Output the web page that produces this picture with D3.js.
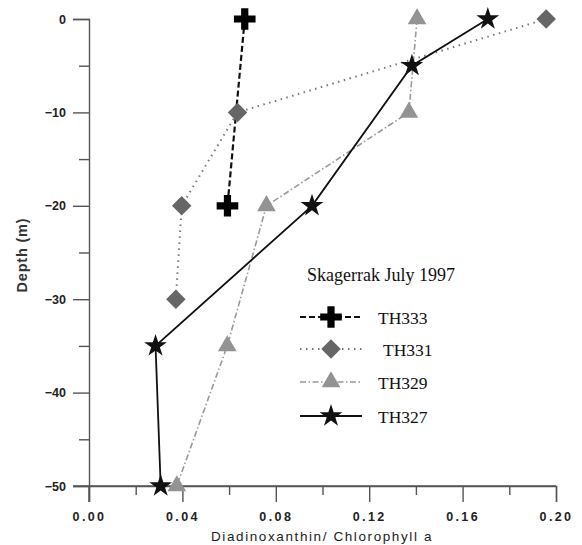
<!DOCTYPE html>
<html>
<head>
<meta charset="utf-8">
<script src="https://cdn.jsdelivr.net/npm/d3@7"></script>
<style>
  html, body { margin: 0; padding: 0; background: #fff; }
  svg { display: block; }
</style>
</head>
<body>
<svg id="chart" width="582" height="545"></svg>
<script>
// Depth profiles of the Diadinoxanthin / Chlorophyll a ratio, Skagerrak July 1997
const depthsTH333 = [0, -20];
const valuesTH333 = [0.0667, 0.0593];

const depthsTH331 = [0, -10, -20, -30];
const valuesTH331 = [0.1958, 0.0636, 0.0397, 0.0372];

const depthsTH329 = [0, -10, -20, -35, -50];
const valuesTH329 = [0.1405, 0.1370, 0.0760, 0.0592, 0.0376];

const depthsTH327 = [0, -5, -20, -35, -50];
const valuesTH327 = [0.1708, 0.1383, 0.0955, 0.0285, 0.0307];

const stationNames = ["TH333", "TH331", "TH329", "TH327"];
const xTickValues = [0, 0.04, 0.08, 0.12, 0.16, 0.20];
const xMinorTicks = [0.02, 0.06, 0.10, 0.14, 0.18];
const yTickValues = [0, -10, -20, -30, -40, -50];
const yMinorTicks = [-5, -15, -25, -35, -45];

const legendTitle = "Skagerrak July 1997";
const xTitle = "Diadinoxanthin/ Chlorophyll a";
const yTitle = "Depth (m)";

const svg = d3.select("#chart");

const x = d3.scaleLinear().domain([0, 0.20]).range([89, 556]);
const y = d3.scaleLinear().domain([0, -50]).range([19, 486]);

const axisColor = "#555";
const labelFont = "Liberation Sans, Arial, sans-serif";
const serifFont = "Liberation Serif, Times New Roman, serif";

// Y axis with major and minor ticks pointing left
const yAxis = svg.append("g").attr("transform", `translate(${x(0)},0)`)
  .call(d3.axisLeft(y).tickValues(yTickValues).tickSize(16).tickPadding(7).tickFormat(d3.format("d")));
svg.append("g").attr("transform", `translate(${x(0)},0)`)
  .call(d3.axisLeft(y).tickValues(yMinorTicks).tickSize(10).tickFormat(""))
  .call(g => g.select(".domain").remove());

// X axis at the bottom of the depth range, ticks pointing down
const xAxis = svg.append("g").attr("transform", `translate(0,${y(-50)})`)
  .call(d3.axisBottom(x).tickValues(xTickValues).tickSize(16).tickPadding(10).tickFormat(d3.format(".2f")));
svg.append("g").attr("transform", `translate(0,${y(-50)})`)
  .call(d3.axisBottom(x).tickValues(xMinorTicks).tickSize(9).tickFormat(""))
  .call(g => g.select(".domain").remove());

svg.selectAll(".domain").attr("stroke", axisColor).attr("stroke-width", 1.4);
svg.selectAll(".tick line").attr("stroke", axisColor).attr("stroke-width", 1.4);
// extend the horizontal axis line left to the depth tick length
svg.append("line")
  .attr("x1", x(0) - 16).attr("x2", x(0.20))
  .attr("y1", y(-50)).attr("y2", y(-50))
  .attr("stroke", axisColor).attr("stroke-width", 1.4);
// continue the vertical axis down to the x tick end
svg.append("line")
  .attr("x1", x(0)).attr("x2", x(0))
  .attr("y1", y(-50)).attr("y2", y(-50) + 16)
  .attr("stroke", axisColor).attr("stroke-width", 1.4);

yAxis.selectAll("text")
  .attr("font-family", labelFont).attr("font-size", 12.5).attr("font-weight", "bold").attr("fill", "#222");
xAxis.selectAll("text")
  .attr("font-family", labelFont).attr("font-size", 12.5).attr("font-weight", "bold")
  .attr("letter-spacing", "2.4px").attr("fill", "#222");

// axis titles
svg.append("text")
  .attr("x", 322).attr("y", 541)
  .attr("text-anchor", "middle")
  .attr("font-family", labelFont).attr("font-size", 13.5)
  .attr("letter-spacing", "1.6px").attr("fill", "#222")
  .text(xTitle);
svg.append("text")
  .attr("transform", "translate(27,255) rotate(-90)")
  .attr("text-anchor", "middle")
  .attr("font-family", labelFont).attr("font-size", 14.5).attr("font-weight", "bold")
  .attr("letter-spacing", "0.8px").attr("fill", "#333")
  .text(yTitle);

// series definitions
const series = [
  { name: stationNames[0], depths: depthsTH333, values: valuesTH333, line: "#111", dash: "6,3", width: 2.2,
    symbol: d3.symbolCross, size: 260, fill: "#000" },
  { name: stationNames[1], depths: depthsTH331, values: valuesTH331, line: "#777", dash: "1.5,4.5", width: 2,
    symbol: d3.symbolDiamond, size: 260, fill: "#666", rot: 45, square: true },
  { name: stationNames[2], depths: depthsTH329, values: valuesTH329, line: "#999", dash: "6,2.5,1.5,2.5", width: 1.6,
    symbol: d3.symbolTriangle, size: 150, fill: "#939393" },
  { name: stationNames[3], depths: depthsTH327, values: valuesTH327, line: "#111", dash: null, width: 1.8,
    symbol: d3.symbolStar, size: 160, fill: "#111" }
];

const line = d3.line().x(d => x(d[1])).y(d => y(d[0]));

function markerPath(s) {
  if (s.square) return d3.symbol(d3.symbolSquare, 190)();
  return d3.symbol(s.symbol, s.size)();
}

// profile lines
series.forEach(s => {
  const pts = s.depths.map((d, i) => [d, s.values[i]]);
  svg.append("path")
    .datum(pts)
    .attr("d", line)
    .attr("fill", "none")
    .attr("stroke", s.line)
    .attr("stroke-width", s.width)
    .attr("stroke-dasharray", s.dash);
});

// markers, drawn above all lines
series.forEach(s => {
  const pts = s.depths.map((d, i) => [d, s.values[i]]);
  svg.append("g").selectAll("path")
    .data(pts)
    .join("path")
    .attr("d", markerPath(s))
    .attr("transform", d => `translate(${x(d[1])},${y(d[0])}) rotate(${s.rot || 0})`)
    .attr("fill", s.fill);
});

// legend
svg.append("text")
  .attr("x", 307).attr("y", 281)
  .attr("font-family", serifFont).attr("font-size", 18).attr("fill", "#111")
  .text(legendTitle);

const legendRowsY = [317, 349, 382, 416];
const legendTextX = [378, 383, 378, 378];
series.forEach((s, i) => {
  const g = svg.append("g").attr("transform", `translate(0,${legendRowsY[i]})`);
  g.append("line")
    .attr("x1", 300).attr("x2", 362).attr("y1", 0).attr("y2", 0)
    .attr("stroke", s.line).attr("stroke-width", s.width)
    .attr("stroke-dasharray", s.dash);
  g.append("path")
    .attr("d", markerPath(s))
    .attr("transform", `translate(331,0) rotate(${s.rot || 0})`)
    .attr("fill", s.fill);
  g.append("text")
    .attr("x", legendTextX[i]).attr("y", 6.5)
    .attr("font-family", serifFont).attr("font-size", 17.5).attr("fill", "#111")
    .text(s.name);
});
</script>
</body>
</html>
